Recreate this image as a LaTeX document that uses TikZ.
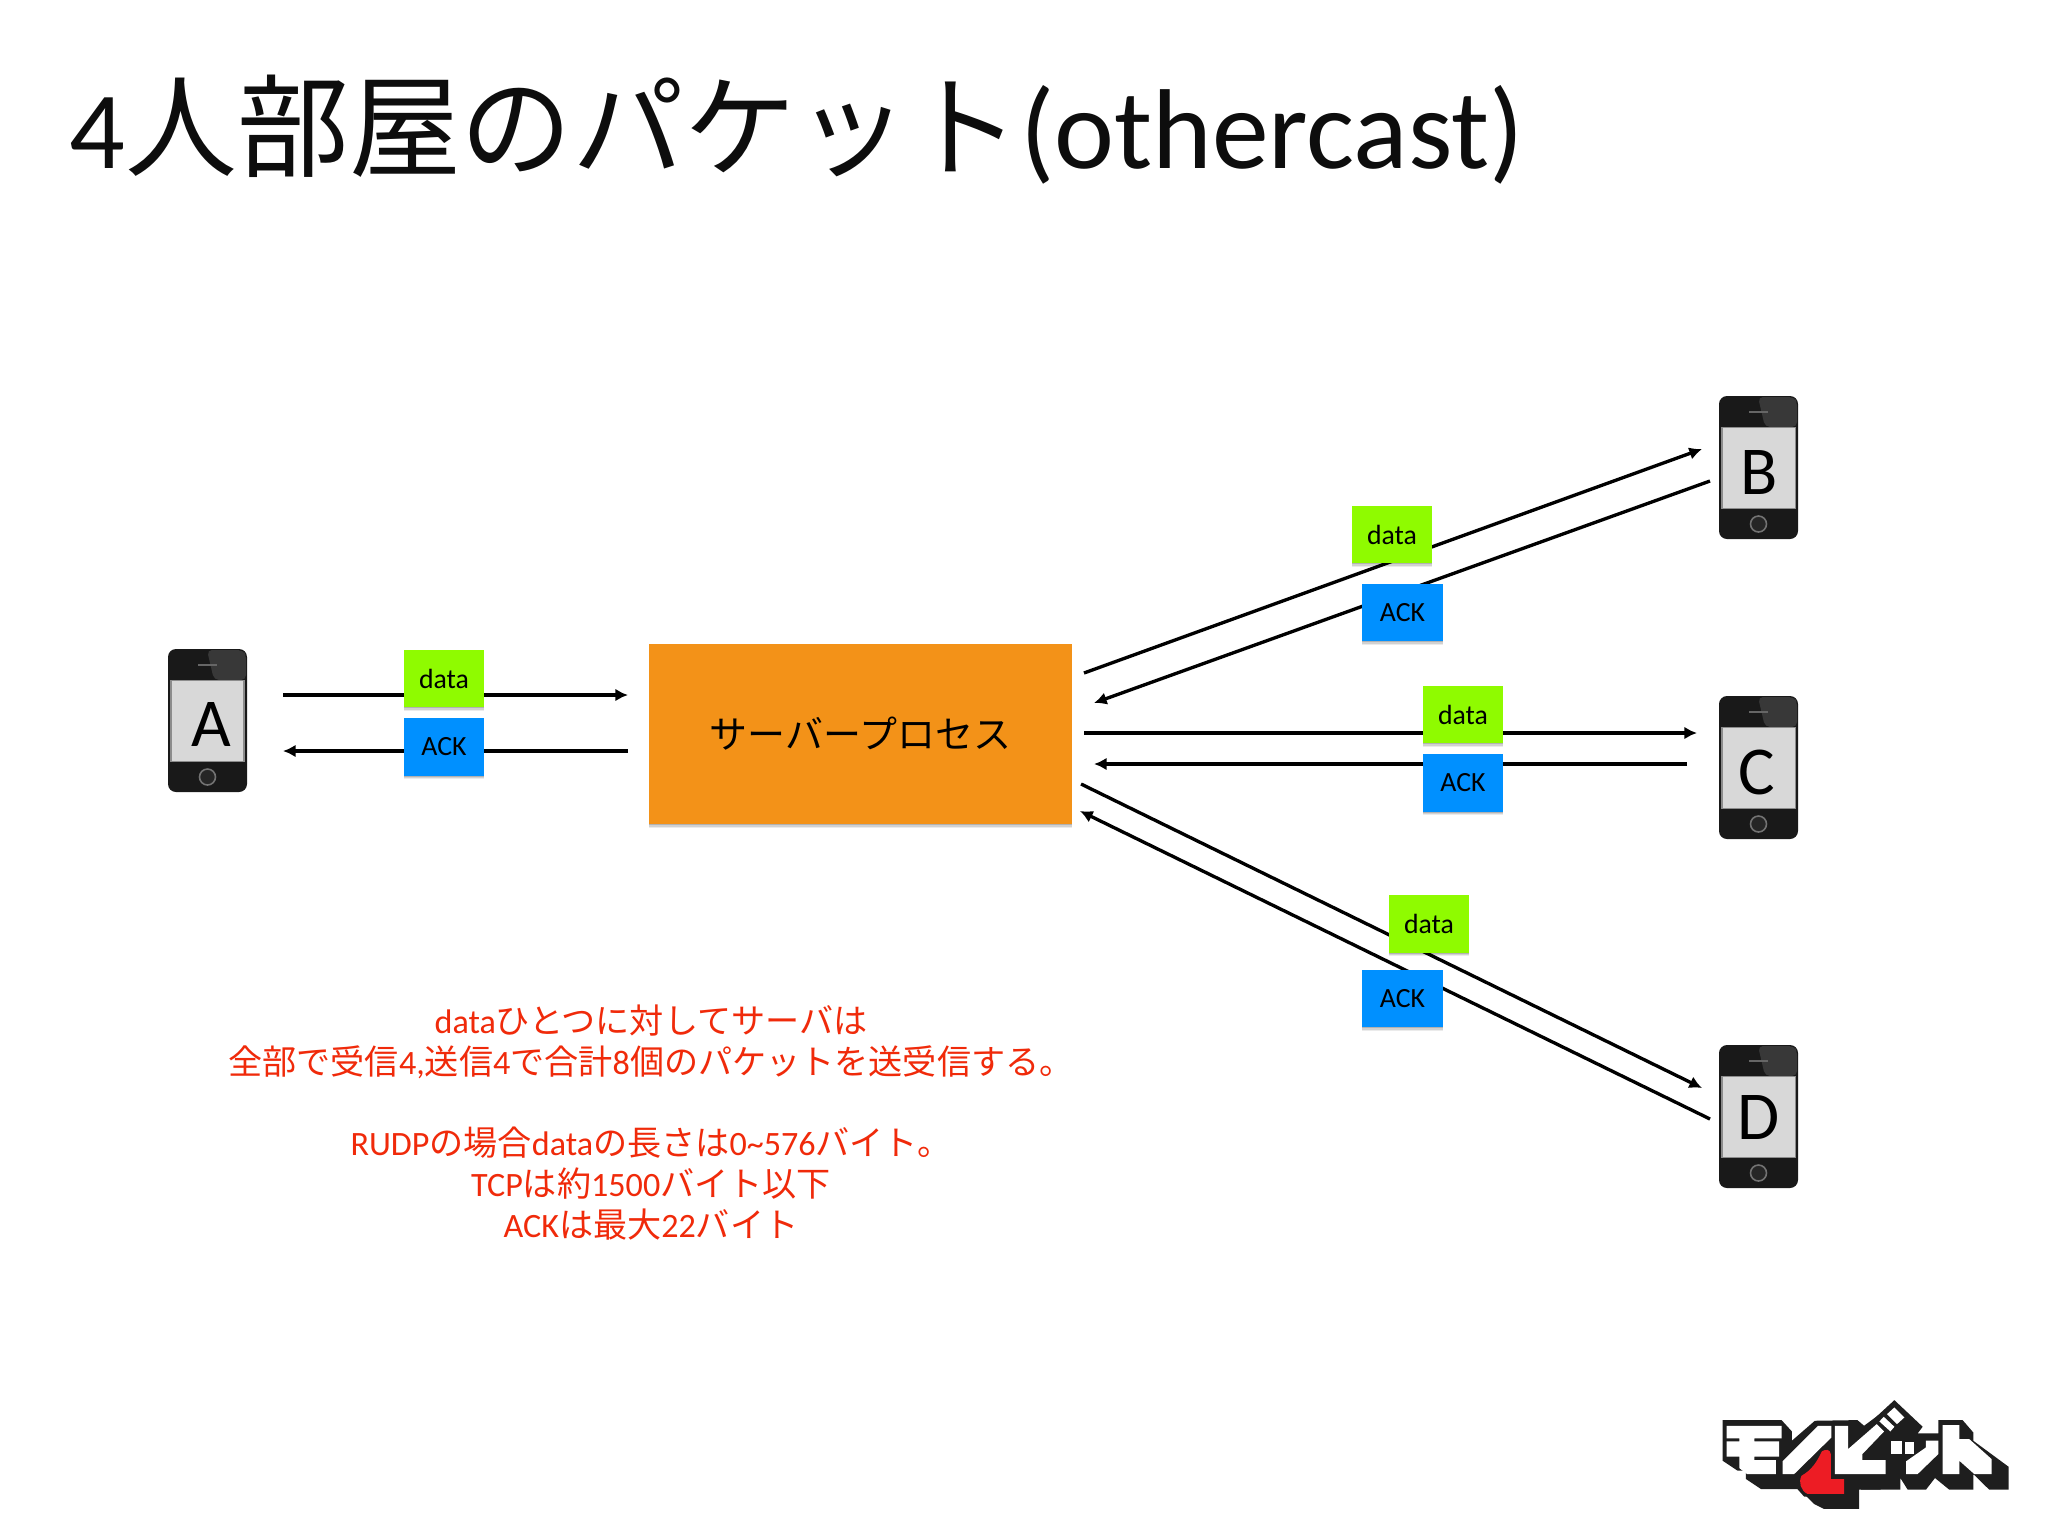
\documentclass[tikz,border=0pt]{standalone}
\usepackage{fontspec}
\setmainfont{Carlito}
\newfontfamily\cjk{Noto Sans CJK JP}
\usetikzlibrary{shadows,arrows.meta}
\newcommand{\J}[1]{{\cjk #1}}
\definecolor{boxgreen}{HTML}{8FFB00}
\definecolor{boxblue}{HTML}{0090FF}
\definecolor{srvorange}{HTML}{F39218}
\definecolor{notered}{HTML}{F02A0A}
\definecolor{scr}{HTML}{D8D8D8}
\definecolor{heartred}{HTML}{ED1C24}
\definecolor{logoblk}{HTML}{1E1E1E}
\tikzset{
  shad/.style={drop shadow={shadow xshift=0pt,shadow yshift=-1.1pt,opacity=.08,fill=black},
               drop shadow={shadow xshift=0pt,shadow yshift=-.75pt,opacity=.11,fill=black},
               drop shadow={shadow xshift=0pt,shadow yshift=-.4pt,opacity=.15,fill=black}},
  pkt/.style={shad,inner sep=0pt,minimum width=.8cm,minimum height=.57cm,font=\fontsize{7.9}{9}\selectfont,text=black},
  dat/.style={pkt,fill=boxgreen},
  ack/.style={pkt,fill=boxblue},
  conn/.style={line width=.95pt,draw=black,-{Latex[length=3.6pt,width=3.6pt]}},
  note/.style={text=notered,font=\fontsize{9.7}{11}\selectfont,anchor=center,inner sep=0pt},
  lblack/.style={fill=logoblk,draw=none},
  lwhite/.style={fill=white,draw=none},
}
\newcommand{\phone}[6]{%
  \begin{scope}[shift={(#2,#3)}]
    \fill[black!90,rounded corners=.8mm] (0,0) rectangle (79,143);
    \fill[black!78,rounded corners=.5mm] (39,1) -- (75,1) -- (78,6) -- (78,31) -- (46,31) -- cycle;
    \draw[black!60,line width=.5pt] (30,16) -- (49,16);
    \node[fill=scr,draw=black!45,line width=.3pt,inner sep=0pt,minimum width=.73cm,minimum height=.815cm] (screen#1) at (39.5,72) {};
    \node[inner sep=0pt,font=\fontsize{19.5}{22}\selectfont] (#1) at ($(screen#1)+(#5,#6)$) {#4};
    \draw[black!55,line width=.45pt,fill=black!85] (39.5,128) circle (8);
  \end{scope}}
\usetikzlibrary{calc}
\begin{document}
\begin{tikzpicture}[x=.01cm,y=-.01cm]
\useasboundingbox[fill=white] (0,0) rectangle (2048,1536);
% title
\node[anchor=west,inner sep=0pt,font=\fontsize{32.3}{36}\selectfont,text=black!95] (title) at (69,130) {\fontsize{31.3}{36}\selectfont 4\J{\fontsize{31.8}{36}\selectfont 人部屋のパケット}\fontsize{32.3}{36}\selectfont(othercast)};
% connector end points
\coordinate (a1) at (283,695); \coordinate (a2) at (628,695);
\coordinate (a3) at (628,751); \coordinate (a4) at (283,751);
\coordinate (b1) at (1084,673); \coordinate (b2) at (1702,449);
\coordinate (b3) at (1710,481); \coordinate (b4) at (1094,703);
\coordinate (c1) at (1084,733); \coordinate (c2) at (1697,733);
\coordinate (c3) at (1687,764); \coordinate (c4) at (1094,764);
\coordinate (d1) at (1081,784); \coordinate (d2) at (1702,1088);
\coordinate (d3) at (1710,1119); \coordinate (d4) at (1080,811);
\foreach \p/\q in {a1/a2,a3/a4,b1/b2,b3/b4,c1/c2,c3/c4,d1/d2,d3/d4}
  \draw[conn] (\p) -- (\q);
% phones
\phone{A}{168}{649}{A}{3.9}{3}
\phone{B}{1719}{396}{B}{1}{4}
\phone{C}{1719}{696}{C}{-2}{4}
\phone{D}{1719}{1045}{D}{.5}{0}
% server
\node[shad,fill=srvorange,inner sep=0pt,minimum width=4.23cm,minimum height=1.8cm,font=\fontsize{10.8}{13}\selectfont,text=black] (srv) at (860.5,734) {\J{サーバープロセス}};
% packets
\node[dat] (da) at (444,678.5) {data};
\node[ack] (aa) at (444,747) {ACK};
\node[dat] (db) at (1392,534.5) {data};
\node[ack] (ab) at (1402.5,612.5) {ACK};
\node[dat] (dc) at (1463,714.5) {data};
\node[ack] (ac) at (1463,783) {ACK};
\node[dat] (dd) at (1429,924) {data};
\node[ack] (ad) at (1402.5,998.5) {ACK};
% note
\node[note] (n1) at (651,1021) {data\J{ひとつに対してサーバ}\J{は}};
\node[note] (n2) at (651,1062) {\J{全部で受信}4,\J{送信}4\J{で合計}8\J{個のパケットを送受信する。}};
\node[note] (n3) at (651,1143) {RUDP\J{の場合}data\J{の長さは}0\textasciitilde576\J{バイト。}};
\node[note] (n4) at (651,1184) {TCP\J{は約}1500\J{バイト以下}};
\node[note] (n5) at (651,1225) {ACK\J{は最大}22\J{バイト}};
% logo, left half
\begin{scope}[xshift=17.1cm,yshift=-13.9cm,x=.003333cm,y=-.003333cm]
  \fill[lblack] (35,88) -- (212,88) -- (243,122) -- (243,150) -- (312,90) -- (440,88) -- (460,105) -- (510,68) -- (510,297) -- (445,297) -- (445,355) -- (340,355) -- (310,340) -- (265,295) -- (150,295) -- (105,265) -- (105,240) -- (80,240) -- (35,210) -- cycle;
\end{scope}
% logo, right half
\begin{scope}[xshift=18.6cm,yshift=-13.9cm,x=.003333cm,y=-.003333cm]
  \fill[lblack] (0,120) -- (100,28) -- (185,108) -- (170,128) -- (232,128) -- (232,88) -- (305,88) -- (337,125) -- (337,150) -- (443,228) -- (443,297) -- (385,297) -- (337,250) -- (337,297) -- (265,297) -- (222,262) -- (195,297) -- (140,297) -- (118,262) -- (118,297) -- (0,297) -- cycle;
  \fill[lwhite] (78,70) -- (100,50) -- (130,80) -- (108,100) -- cycle;
  \fill[lwhite] (55,92) -- (68,78) -- (100,108) -- (88,122) -- cycle;
  \fill[lwhite] (90,150) rectangle (122,190);
  \fill[lwhite] (132,155) rectangle (160,190);
  \fill[lwhite] (195,150) -- (232,150) -- (232,190) -- (170,250) -- (135,250) -- (135,212) -- (195,170) -- cycle;
  \fill[lwhite] (245,103) -- (295,103) -- (295,145) -- (325,145) -- (392,205) -- (392,250) -- (340,250) -- (295,210) -- (295,250) -- (245,250) -- cycle;
\end{scope}
\begin{scope}[xshift=17.1cm,yshift=-13.9cm,x=.003333cm,y=-.003333cm]
  \fill[lwhite] (47,105) -- (212,105) -- (212,143) -- (130,143) -- (130,152) -- (205,152) -- (205,198) -- (130,198) -- (130,208) -- (195,208) -- (195,250) -- (108,250) -- (85,232) -- (85,198) -- (47,198) -- (47,152) -- (85,152) -- (85,143) -- (47,143) -- cycle;
  \fill[lwhite] (322,105) -- (362,105) -- (362,140) -- (250,250) -- (215,250) -- (215,212) -- cycle;
  \fill[lwhite] (372,105) -- (412,105) -- (412,175) -- (498,100) -- (520,122) -- (455,190) -- (455,208) -- (525,208) -- (525,250) -- (372,250) -- cycle;
  \fill[logoblk] (340,170) -- (368,170) -- (368,262) -- (410,262) -- (410,318) -- (280,318) -- (255,290) -- (262,250) -- (295,228) -- cycle;
  \fill[heartred] (333,182) .. controls (345,174) and (358,176) .. (360,190) -- (360,265) -- (400,265) -- (400,310) -- (290,310) .. controls (270,300) and (262,275) .. (272,255) .. controls (300,240) and (318,215) .. (333,182) -- cycle;
\end{scope}
\end{tikzpicture}
\end{document}
